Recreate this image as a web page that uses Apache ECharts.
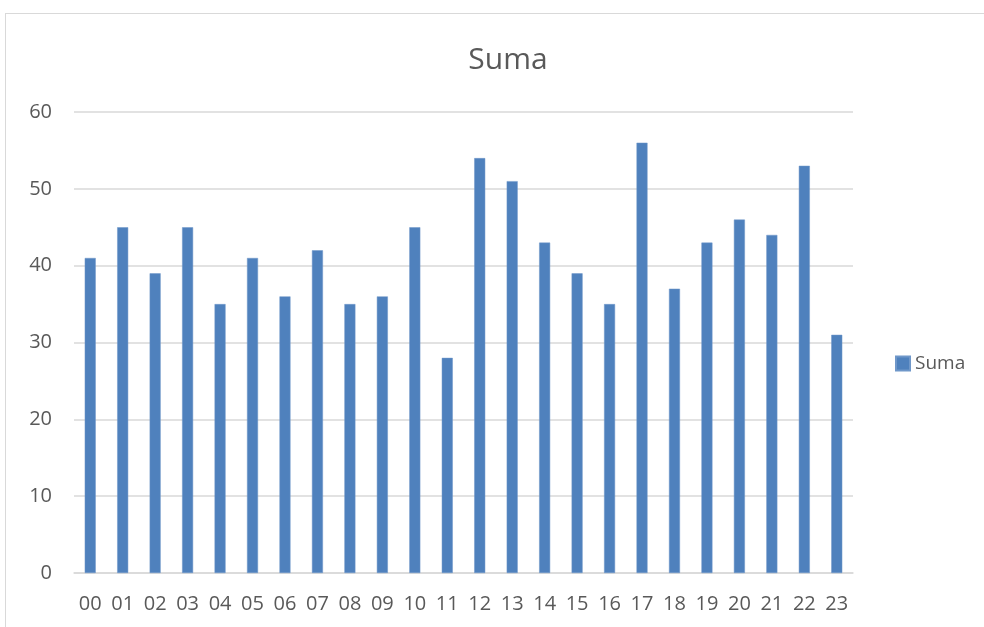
<!DOCTYPE html>
<html>
<head>
<meta charset="utf-8">
<script src="https://cdn.jsdelivr.net/npm/echarts@6/dist/echarts.min.js"></script>
<style>
  html, body { margin: 0; padding: 0; background: #fff; }
  #frame { position: absolute; left: 5px; top: 13px; width: 990px; height: 620px; border-left: 1px solid #d9d9d9; border-top: 1px solid #d9d9d9; }
  #main { position: absolute; left: 0; top: 0; width: 984px; height: 627px; }
</style>
</head>
<body>
<div id="frame"></div>
<div id="main"></div>
<script>
var hours = ['00','01','02','03','04','05','06','07','08','09','10','11',
             '12','13','14','15','16','17','18','19','20','21','22','23'];
var suma = [41, 45, 39, 45, 35, 41, 36, 42, 35, 36, 45, 28,
            54, 51, 43, 39, 35, 56, 37, 43, 46, 44, 53, 31];

var myChart = echarts.init(document.getElementById('main'));
var font = 'Open Sans, Noto Sans, sans-serif';

var option = {
  animation: false,
  title: {
    text: 'Suma',
    left: 503,
    textAlign: 'center',
    top: 40,
    textStyle: { fontFamily: font, fontSize: 30, fontWeight: 'normal', color: '#595959' }
  },
  legend: {
    data: ['Suma'],
    icon: 'rect',
    orient: 'vertical',
    left: 890,
    top: 349,
    itemWidth: 14,
    itemHeight: 14,
    itemGap: 6,
    textStyle: { fontFamily: font, fontSize: 19, color: '#595959' }
  },
  grid: { left: 74, right: 131, top: 112, bottom: 54 },
  xAxis: {
    type: 'category',
    data: hours,
    axisLine: { lineStyle: { color: '#d9d9d9', width: 1.5 } },
    axisTick: { show: false },
    axisLabel: { fontFamily: font, fontSize: 20, color: '#595959', margin: 21 }
  },
  yAxis: {
    type: 'value',
    min: 0,
    max: 60,
    interval: 10,
    axisLine: { show: false },
    axisTick: { show: false },
    axisLabel: { fontFamily: font, fontSize: 20, color: '#595959', margin: 22 },
    splitLine: { lineStyle: { color: '#d9d9d9', width: 1.5 } }
  },
  series: [{
    name: 'Suma',
    type: 'bar',
    data: suma,
    barWidth: 11,
    itemStyle: { color: '#4f81bd', borderColor: '#6f97c9', borderWidth: 0.5 }
  }]
};
myChart.setOption(option);
</script>
</body>
</html>
